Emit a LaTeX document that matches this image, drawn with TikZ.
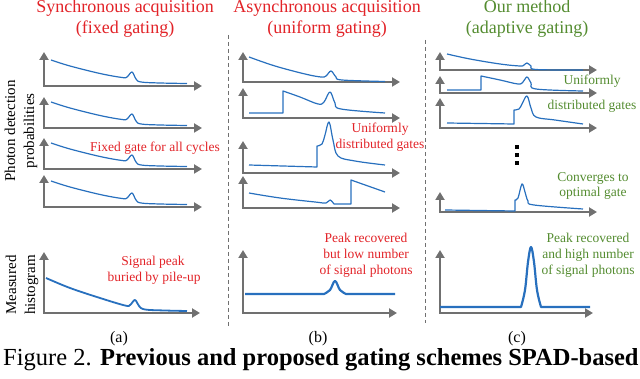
\documentclass[tikz,border=0pt]{standalone}
\usepackage{fontspec}
\setmainfont{Liberation Serif}
\usetikzlibrary{arrows.meta}
\definecolor{gatered}{RGB}{226,35,40}
\definecolor{gategreen}{RGB}{84,140,48}
\definecolor{gateblue}{RGB}{40,112,190}
\definecolor{axisgray}{RGB}{112,112,112}
\begin{document}
\begin{tikzpicture}[x=1pt,y=-1pt,
  axis/.style={draw=axisgray,line width=2.3pt,{Triangle[length=8pt,width=9pt]}-{Triangle[length=8pt,width=9pt]}},
  curve/.style={draw=gateblue,line width=1.2pt,line join=round},
  hist/.style={draw=gateblue,line width=2.2pt,line join=round},
  sep/.style={draw=axisgray,line width=0.8pt,dash pattern=on 4pt off 3pt},
  title/.style={font=\fontsize{18}{20}\selectfont,anchor=base},
  note/.style={font=\fontsize{13.5}{16}\selectfont,anchor=base},
  ylab/.style={font=\fontsize{15}{19}\selectfont,rotate=90,align=center},
  sub/.style={font=\fontsize{16}{18}\selectfont,anchor=base}]
\useasboundingbox (0,0) rectangle (640,379);
% separators
\draw[sep] (228,35) -- (228,327);
\draw[sep] (425,40) -- (425,323);
% titles
\node[title,gatered] (ta1) at (125,13) {Synchronous acquisition};
\node[title,gatered] (ta2) at (125,34) {(fixed gating)};
\node[title,gatered] (tb1) at (327,13) {Asynchronous acquisition};
\node[title,gatered] (tb2) at (327,34) {(uniform gating)};
\node[title,gategreen] (tc1) at (527,13) {Our method};
\node[title,gategreen] (tc2) at (527,34) {(adaptive gating)};
% y labels
\node[ylab] (ypdp) at (21,131) {Photon detection\\probabilities};
\node[ylab] (yhist) at (22,285) {Measured\\histogram};
% (a) fixed gating, four cycles
\foreach \ya/\top in {86/52,128/97,169/138,207/175}{
  \draw[axis] (44,\top) |- (202,\ya);
  \begin{scope}[shift={(0,\ya)}]
  \draw[curve] plot[smooth,tension=0.6] coordinates {(51,-26) (70,-20) (100,-12.5) (122,-8.5) (127,-9) (132,-14) (136,-7) (141,-4) (160,-3) (187,-2.5)};
  \end{scope}
}
\draw[axis] (44,252) |- (200,313);
\draw[hist,line width=1.8pt] plot[smooth,tension=0.6] coordinates {(46,278) (70,288) (100,298) (125,305.5) (130,305) (135,300) (139,306) (145,309.5) (165,310.5) (187,311)};
\node[note,gatered] (na) at (155,152) {Fixed gate for all cycles};
\node[note,gatered] (nah1) at (153,266) {Signal peak};
\node[note,gatered] (nah2) at (154,282) {buried by pile-up};
\node[sub] (suba) at (119,342) {(a)};
% (b) uniform gating
\draw[axis] (243,52) |- (400,82);
\draw[axis] (243,88) |- (400,118);
\draw[axis] (243,141) |- (400,173);
\draw[axis] (243,176) |- (400,208);
\draw[curve] plot[smooth,tension=0.6] coordinates {(249,57) (275,66) (305,74) (321,77) (326,76) (331,71) (336,77) (342,80) (385,81.5)};
\draw[curve] (249,113) -- (283,113) -- (283,91) -- plot[smooth,tension=0.6] coordinates {(283,91) (300,97) (318,104) (324,102) (330,92) (335,103) (341,109) (385,113)};
\draw[curve] (249,165) -- (317,167) -- (317,146) -- plot[smooth,tension=0.6] coordinates {(317,146) (322,144) (325,135) (329,122) (333,140) (338,156) (355,161) (385,165)};
\draw[curve] plot[smooth,tension=0.6] coordinates {(249,193) (280,198) (315,202) (326,203) (330,200) (334,204)} -- (351,204) -- (351,180) -- plot[smooth,tension=0.6] coordinates {(351,180) (368,186) (385,192)};
\draw[axis] (243,250) |- (397,313);
\draw[hist] (245,294) -- (324,294) -- plot[smooth,tension=0.6] coordinates {(324,294) (330,290) (335,281) (340,290) (346,294)} -- (395,294);
\node[note,gatered] (nb1) at (380,133) {Uniformly};
\node[note,gatered] (nb2) at (380,149) {distributed gates};
\node[note,gatered] (nbh1) at (366,243) {Peak recovered};
\node[note,gatered] (nbh2) at (366,259) {but low number};
\node[note,gatered] (nbh3) at (366,275) {of signal photons};
\node[sub] (subb) at (318,342) {(b)};
% (c) adaptive gating
\draw[axis] (440,52) |- (597,70);
\draw[axis] (440,76) |- (597,93);
\draw[axis] (440,98) |- (597,128);
\draw[axis] (440,192) |- (597,212);
\draw[curve] plot[smooth,tension=0.6] coordinates {(447,54) (470,59) (500,64) (520,66) (524,65) (527,63) (531,66) (536,69.5) (583,70)};
\draw[curve] (447,90) -- (481,90) -- (481,76) -- plot[smooth,tension=0.6] coordinates {(481,76) (500,80) (518,84) (523,82) (527,77) (531,83) (536,89) (583,91)};
\draw[curve] (447,123) -- (514,124) -- (514,110) -- plot[smooth,tension=0.6] coordinates {(514,110) (519,109) (522,104) (527,96) (531,108) (536,117) (555,120) (583,124)};
\draw[curve] (445,210) -- (515,211) -- (515,200) -- plot[smooth,tension=0.6] coordinates {(515,200) (518,198) (522,184) (525,192) (528,201) (534,205) (583,209)};
\foreach \yd in {147,155,163}
  \fill (515,\yd-2) rectangle (519,\yd+2);
\draw[axis] (440,250) |- (593,313);
\draw[hist] (440,307) -- (521,307) -- plot[smooth,tension=0.6] coordinates {(521,307) (525,290) (528,262) (531,247) (534,262) (537,290) (541,307)} -- (590,307);
\node[note,gategreen] (nc1) at (592,85) {Uniformly};
\node[note,gategreen] (nc2) at (592,110) {distributed gates};
\node[note,gategreen] (nc3) at (593,182) {Converges to};
\node[note,gategreen] (nc4) at (593,197) {optimal gate};
\node[note,gategreen] (nch1) at (588,243) {Peak recovered};
\node[note,gategreen] (nch2) at (588,259) {and high number};
\node[note,gategreen] (nch3) at (588,275) {of signal photons};
\node[sub] (subc) at (517,342) {(c)};
% caption
\node[font=\fontsize{24.5}{26}\selectfont,anchor=base west,inner sep=0pt] (figlbl) at (3,365) {Figure 2.};
\node[font=\fontsize{24.5}{26}\selectfont\bfseries,anchor=base west,inner sep=0pt] (figtxt) at (100,365) {Previous and proposed gating schemes SPAD-based};
\end{tikzpicture}
\end{document}
